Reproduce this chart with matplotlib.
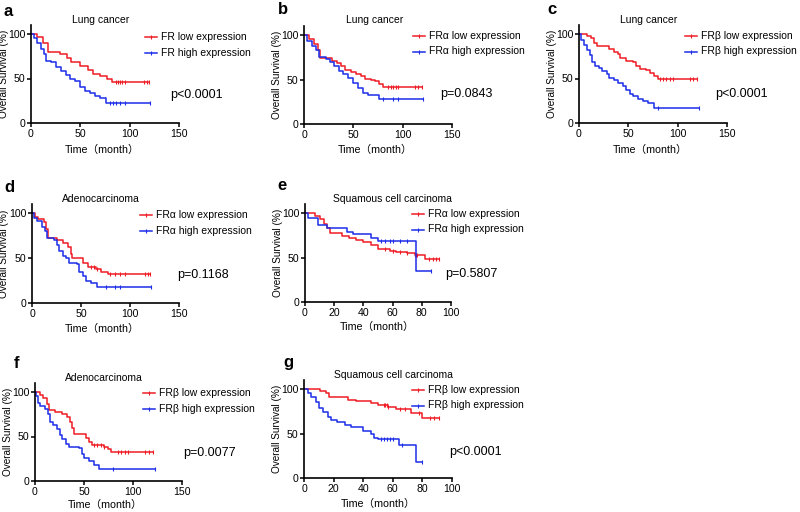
import numpy as np
import matplotlib.pyplot as plt
from matplotlib.lines import Line2D

FONT = ['Liberation Sans', 'Noto Sans CJK SC', 'DejaVu Sans']
plt.rcParams['font.family'] = FONT
RED = '#ee1c24'
BLUE = '#1c2ee8'

# ---- data (time in months, survival in %) ----
# a: FR, lung cancer
a_low_t = [0, 6, 12, 17, 29, 36, 41, 50, 58, 63, 70, 77, 82, 120]
a_low_s = [100, 97, 90, 80, 78, 73, 68, 64, 60, 55, 53, 50, 46, 46]
a_low_c = [86, 88, 90, 92, 95, 115, 118, 120]
a_high_t = [0, 3, 6, 10, 13, 15, 20, 25, 30, 35, 40, 45, 50, 55, 60, 65, 70, 76, 121]
a_high_s = [100, 95, 90, 83, 78, 70, 68, 63, 58, 54, 50, 47, 40, 36, 34, 30, 28, 22, 22]
a_high_c = [80, 83, 86, 90, 95, 121]

# b: FRα, lung cancer
b_low_t = [0, 5, 10, 14, 16, 28, 33, 38, 42, 48, 53, 58, 62, 68, 72, 76, 80, 120]
b_low_s = [100, 96, 90, 83, 74, 71, 68, 65, 61, 58, 56, 54, 51, 50, 48, 45, 42, 42]
b_low_c = [85, 88, 90, 93, 95, 113, 116, 120]
b_high_t = [0, 3, 8, 12, 15, 22, 26, 30, 35, 40, 45, 50, 55, 60, 65, 76, 121]
b_high_s = [100, 93, 88, 83, 75, 73, 70, 65, 60, 56, 52, 46, 40, 35, 33, 28, 28]
b_high_c = [80, 90, 95, 121]

# c: FRβ, lung cancer
c_low_t = [0, 8, 12, 15, 18, 30, 35, 40, 42, 48, 55, 58, 62, 68, 72, 76, 80, 120]
c_low_s = [100, 98, 95, 90, 86, 83, 80, 77, 73, 70, 68, 64, 61, 59, 56, 53, 50, 50]
c_low_c = [82, 85, 88, 92, 95, 112, 116, 120]
c_high_t = [0, 2, 5, 8, 11, 13, 16, 20, 23, 28, 30, 35, 40, 45, 48, 52, 55, 60, 65, 70, 76, 122]
c_high_s = [100, 93, 88, 82, 76, 68, 64, 62, 58, 55, 51, 48, 45, 42, 37, 33, 30, 27, 25, 23, 17, 17]
c_high_c = [80, 122]

# d: FRα, adenocarcinoma
d_low_t = [0, 3, 6, 12, 14, 16, 25, 32, 37, 40, 41, 52, 57, 65, 70, 78, 120]
d_low_s = [100, 96, 93, 90, 82, 72, 70, 67, 62, 55, 50, 45, 40, 38, 35, 32, 32]
d_low_c = [60, 63, 66, 80, 85, 90, 95, 115, 118, 120]
d_high_t = [0, 2, 5, 10, 13, 15, 22, 25, 28, 32, 35, 38, 46, 48, 52, 55, 60, 66, 121]
d_high_s = [100, 95, 91, 85, 80, 72, 70, 64, 58, 52, 50, 44, 43, 35, 30, 25, 22, 18, 18]
d_high_c = [75, 85, 90, 121]

# e: FRα, squamous cell carcinoma
e_low_t = [0, 7, 10, 13, 15, 17, 25, 30, 35, 40, 45, 50, 58, 62, 70, 75, 82, 92]
e_low_s = [100, 97, 93, 88, 83, 77, 74, 72, 70, 67, 64, 60, 57, 56, 55, 53, 48, 48]
e_low_c = [55, 60, 65, 70, 75, 76, 77, 85, 88, 90, 92]
e_high_t = [0, 2, 9, 15, 29, 33, 45, 50, 76, 86]
e_high_s = [100, 94, 87, 83, 79, 76, 72, 69, 35, 35]
e_high_c = [52, 55, 58, 60, 65, 70, 86]

# f: FRβ, adenocarcinoma
f_low_t = [0, 5, 8, 12, 14, 20, 28, 33, 36, 38, 40, 50, 52, 55, 58, 65, 70, 75, 78, 120]
f_low_s = [100, 97, 93, 86, 80, 78, 75, 72, 66, 60, 53, 53, 48, 44, 41, 40, 38, 36, 33, 33]
f_low_c = [60, 63, 67, 70, 85, 88, 92, 95, 112, 116, 120]
f_high_t = [0, 1, 3, 5, 10, 13, 15, 18, 22, 26, 28, 32, 35, 45, 48, 50, 55, 60, 65, 122]
f_high_s = [100, 95, 88, 84, 81, 75, 66, 63, 58, 52, 47, 42, 38, 37, 30, 26, 22, 18, 14, 14]
f_high_c = [80, 122]

# g: FRβ, squamous cell carcinoma
g_low_t = [0, 11, 15, 17, 30, 35, 45, 50, 57, 62, 72, 80, 91]
g_low_s = [100, 98, 96, 91, 88, 86, 84, 82, 80, 77, 73, 67, 67]
g_low_c = [54, 55, 56, 57, 65, 68, 78, 85, 88, 91]
g_high_t = [0, 3, 5, 8, 10, 13, 16, 18, 22, 28, 32, 40, 45, 47, 50, 64, 76, 80]
g_high_s = [100, 95, 91, 85, 79, 74, 68, 65, 63, 60, 57, 53, 50, 45, 44, 37, 18, 18]
g_high_c = [52, 54, 56, 58, 60, 66, 80]

W, H = 800, 512
fig = plt.figure(figsize=(8, 5.12), dpi=100)


def ftext(x, y, s, **kw):
    fig.text(x / W, 1 - y / H, s, **kw)


def km(ax, t, s, cens, color):
    t = np.asarray(t, float)
    s = np.asarray(s, float)
    ax.step(t, s, where='post', color=color, lw=1.1, clip_on=False)
    idx = np.searchsorted(t, cens, side='right') - 1
    ax.plot(cens, s[idx], ls='none', marker='|', ms=3, mew=0.8, color=color, clip_on=False)


# panel: letter, title, gene, p text, x0px, x1px, y0px, y100px, xmax, curves, label positions
panels = [
    ('a', 'Lung cancer', 'FR', 'p<0.0001', 31, 179, 123, 34, 150,
     (a_low_t, a_low_s, a_low_c, a_high_t, a_high_s, a_high_c),
     dict(letter=(4, 11), title=(101, 20), leg=(145, 37), p=(170, 95), xl=(102, 150), yl=4)),
    ('b', 'Lung cancer', 'FRα', 'p=0.0843', 304, 452, 124, 35, 150,
     (b_low_t, b_low_s, b_low_c, b_high_t, b_high_s, b_high_c),
     dict(letter=(278, 10), title=(375, 20), leg=(413, 36), p=(440, 94), xl=(375, 150), yl=277)),
    ('c', 'Lung cancer', 'FRβ', 'p<0.0001', 579, 727, 123, 34, 150,
     (c_low_t, c_low_s, c_low_c, c_high_t, c_high_s, c_high_c),
     dict(letter=(547, 10), title=(649, 20), leg=(685, 36), p=(715, 94), xl=(650, 150), yl=552)),
    ('d', 'Adenocarcinoma', 'FRα', 'p=0.1168', 32, 179, 303, 213, 150,
     (d_low_t, d_low_s, d_low_c, d_high_t, d_high_s, d_high_c),
     dict(letter=(4, 187), title=(101, 199), leg=(140, 215), p=(177, 275), xl=(102, 329), yl=4)),
    ('e', 'Squamous cell carcinoma', 'FRα', 'p=0.5807', 305, 451, 302, 213, 100,
     (e_low_t, e_low_s, e_low_c, e_high_t, e_high_s, e_high_c),
     dict(letter=(277, 185), title=(392, 199), leg=(412, 214), p=(445, 274), xl=(377, 327), yl=278)),
    ('f', 'Adenocarcinoma', 'FRβ', 'p=0.0077', 35, 182, 481, 392, 150,
     (f_low_t, f_low_s, f_low_c, f_high_t, f_high_s, f_high_c),
     dict(letter=(14, 364), title=(104, 378), leg=(143, 393), p=(183, 453), xl=(105, 505), yl=8)),
    ('g', 'Squamous cell carcinoma', 'FRβ', 'p<0.0001', 304, 452, 478, 389, 100,
     (g_low_t, g_low_s, g_low_c, g_high_t, g_high_s, g_high_c),
     dict(letter=(283, 363), title=(393, 375), leg=(412, 390), p=(449, 452), xl=(378, 504), yl=277)),
]

for letter, title, gene, ptxt, x0, x1, y0, y100, xmax, cv, pos in panels:
    ppu = (y0 - y100) / 100.0
    top = y0 - 110 * ppu
    ax = fig.add_axes([x0 / W, 1 - y0 / H, (x1 - x0) / W, (y0 - top) / H])
    ax.set_xlim(0, xmax)
    ax.set_ylim(0, 110)
    for sp in ['top', 'right']:
        ax.spines[sp].set_visible(False)
    for sp in ['left', 'bottom']:
        ax.spines[sp].set_linewidth(1.2)
    ax.set_yticks([0, 50, 100])
    ax.set_xticks(np.arange(0, xmax + 1, 50 if xmax == 150 else 20))
    ax.tick_params(direction='out', length=3, width=1.1, labelsize=7.6, pad=1)
    ax.set_facecolor('none')

    lt, ls_, lc, ht, hs, hc = cv
    km(ax, lt, ls_, lc, RED)
    km(ax, ht, hs, hc, BLUE)

    ftext(*pos['letter'], letter, fontsize=12, fontweight='bold', ha='left', va='center')
    ftext(*pos['title'], title, fontsize=7.5, ha='center', va='center')
    ftext(*pos['p'], ptxt, fontsize=9, ha='left', va='center')
    ftext(*pos['xl'], 'Time（month）', fontsize=7.7, ha='center', va='center', family=FONT)
    ftext(pos['yl'], (y0 + top) / 2, 'Overall Survival (%)', fontsize=7.2,
          rotation=90, ha='center', va='center')

    lx, ly = pos['leg']
    for k, (col, lev) in enumerate([(RED, 'low'), (BLUE, 'high')]):
        yy = 1 - (ly + 15.5 * k) / H
        fig.add_artist(Line2D([lx / W, (lx + 12) / W], [yy, yy], color=col, lw=1.1))
        fig.add_artist(Line2D([(lx + 6) / W], [yy], color=col, marker='|', ms=3, mew=0.8))
        fig.text((lx + 16) / W, yy, f'{gene} {lev} expression', fontsize=7.5,
                 ha='left', va='center')

fig.savefig('out.png', dpi=100)
